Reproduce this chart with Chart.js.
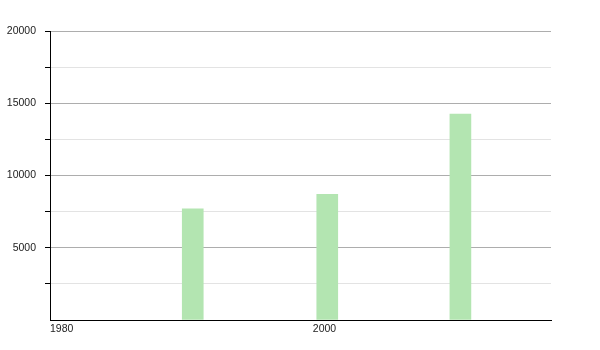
<!DOCTYPE html>
<html lang="en">

<head>
    <meta charset="UTF-8">
    <title>Bar chart</title>
    <script src="https://cdn.jsdelivr.net/npm/chart.js"></script>
    <style>
        html, body { margin: 0; padding: 0; background: #fff; }
        .chart-box { width: 600px; height: 350px; }
    </style>
</head>

<body>

    <div class="chart-box">
        <canvas id="bar-chart" width="600" height="350"></canvas>
    </div>

    <script>
        const years = [1990.4, 2000.2, 2009.9];
        const values = [7700, 8700, 14250];
        const xTicks = [1980, 2000];
        const yLabels = [5000, 10000, 15000, 20000];

        const xMin = 1980;
        const xMax = 2016.5;

        const ctx = document.getElementById('bar-chart').getContext('2d');

        new Chart(ctx, {
            type: 'bar',
            data: {
                datasets: [{
                    data: years.map((y, i) => ({ x: y, y: values[i] })),
                    backgroundColor: '#b3e5b1',
                    borderWidth: 0,
                    barThickness: 21
                }]
            },
            options: {
                responsive: false,
                animation: false,
                layout: {
                    padding: { top: 31, right: 49, left: 0, bottom: 0 }
                },
                plugins: {
                    legend: { display: false },
                    tooltip: { enabled: false }
                },
                scales: {
                    x: {
                        type: 'linear',
                        min: xMin,
                        max: xMax,
                        offset: false,
                        afterBuildTicks: function (scale) {
                            scale.ticks = xTicks.map(v => ({ value: v })).concat([{ value: xMax }]);
                        },
                        afterFit: function (scale) {
                            scale.height = 30;
                        },
                        grid: { display: false, drawTicks: false },
                        border: { display: true, color: '#000', width: 1 },
                        ticks: {
                            autoSkip: false,
                            maxRotation: 0,
                            align: 'inner',
                            padding: 3,
                            color: '#222',
                            font: { family: 'Liberation Sans', size: 10.5 },
                            callback: function (value) {
                                return xTicks.includes(value) ? String(value) : '';
                            }
                        }
                    },
                    y: {
                        min: 0,
                        max: 20000,
                        afterFit: function (scale) {
                            scale.width = 50;
                        },
                        grid: {
                            color: function (c) {
                                if (c.tick.value === 0) return 'rgba(0,0,0,0)';
                                return c.tick.value % 5000 === 0 ? '#adadad' : '#e3e3e3';
                            },
                            tickColor: function (c) {
                                return c.tick.value === 0 ? 'rgba(0,0,0,0)' : '#000';
                            },
                            tickLength: 5
                        },
                        border: { display: true, color: '#000', width: 1 },
                        ticks: {
                            stepSize: 2500,
                            autoSkip: false,
                            padding: 9,
                            color: '#222',
                            font: { family: 'Liberation Sans', size: 10.5 },
                            callback: function (value) {
                                return yLabels.includes(value) ? String(value) : '';
                            }
                        }
                    }
                }
            }
        });
    </script>

</body>

</html>
